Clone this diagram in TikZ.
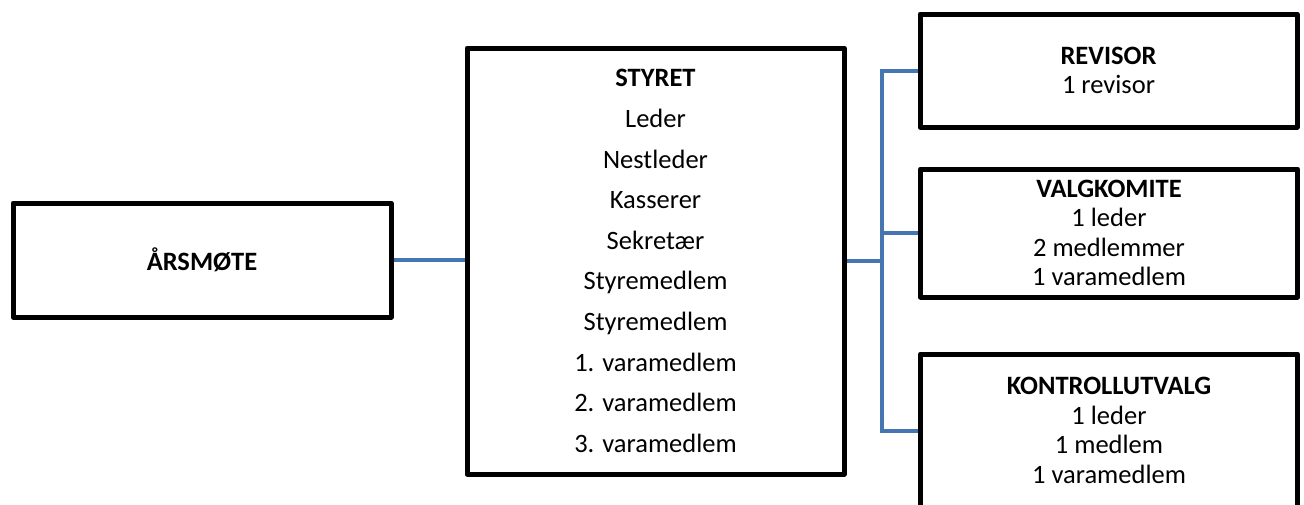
\documentclass[tikz,border=0pt]{standalone}
\usepackage{fontspec}
\setmainfont{Carlito}
\definecolor{linkblue}{HTML}{4676B2}
\begin{document}
\begin{tikzpicture}[x=1pt,y=-1pt,
  box/.style={draw=black, line width=5pt, line join=round, rectangle, inner sep=0pt, align=center, minimum width=377pt},
  link/.style={draw=linkblue, line width=4pt},
  bigtxt/.style={font=\fontsize{26.5}{40.6}\selectfont},
  smalltxt/.style={font=\fontsize{26.5}{29.5}\selectfont}]
\useasboundingbox (0,0) rectangle (1304,504);
\node[box, bigtxt, minimum width=378pt, minimum height=114pt] (arsmote) at (202,260) {\textbf{ÅRSMØTE}};
\node[box, bigtxt, minimum height=426pt] (styret) at (655.5,261) {\textbf{STYRET}\\Leder\\Nestleder\\Kasserer\\Sekretær\\Styremedlem\\Styremedlem\\1. varamedlem\\2. varamedlem\\3. varamedlem};
\node[box, smalltxt, minimum height=113pt] (revisor) at (1108.5,70.5) {\textbf{REVISOR}\\1 revisor};
\node[box, smalltxt, minimum height=128pt] (valg) at (1109,233) {\textbf{VALGKOMITE}\\1 leder\\2 medlemmer\\1 varamedlem};
\node[box, smalltxt, minimum height=153pt] (kontroll) at (1109,430.5) {\textbf{KONTROLLUTVALG}\\1 leder\\1 medlem\\1 varamedlem};
\coordinate (bus) at (882,261);
\draw[link] (arsmote.east) -- (arsmote.east -| styret.west);
\draw[link] (styret.east) -- (styret.east -| bus);
\draw[link] (revisor.west) -| (bus |- kontroll.west) -- (kontroll.west);
\draw[link] (valg.west) -- (valg.west -| bus);
\end{tikzpicture}
\end{document}
